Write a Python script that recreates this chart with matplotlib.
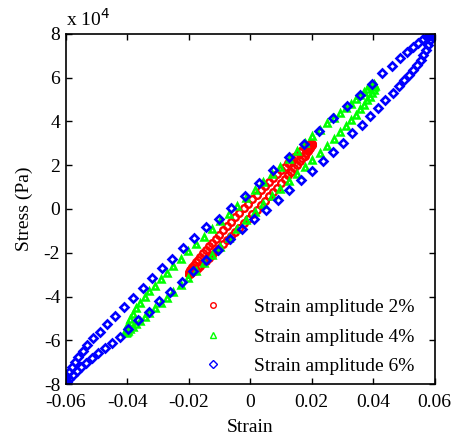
import numpy as np
import matplotlib.pyplot as plt
import matplotlib.ticker as tck

plt.rcParams['font.family'] = ['Liberation Serif', 'DejaVu Serif']
plt.rcParams['axes.unicode_minus'] = False

# stress values are in units of 1e4 Pa (axis shows "x 10^4")
# ---- strain amplitude 2% ----
red_up_strain = [-0.0200, -0.0200, -0.0198, -0.0196, -0.0192, -0.0188, -0.0183, -0.0177, -0.0170, -0.0162,
                 -0.0153, -0.0144, -0.0134, -0.0123, -0.0112, -0.0100, -0.0088, -0.0075, -0.0062, -0.0048,
                 -0.0035, -0.0021, -0.0007, 0.0007, 0.0021, 0.0035, 0.0048, 0.0062, 0.0075, 0.0088,
                 0.0100, 0.0112, 0.0123, 0.0134, 0.0144, 0.0153, 0.0162, 0.0170, 0.0177, 0.0183,
                 0.0188, 0.0192, 0.0196, 0.0198, 0.0200, 0.0200]
red_up_stress = [-2.95, -2.92, -2.87, -2.81, -2.74, -2.65, -2.55, -2.44, -2.32, -2.18,
                 -2.03, -1.88, -1.71, -1.54, -1.36, -1.17, -0.98, -0.78, -0.58, -0.37,
                 -0.17, 0.04, 0.25, 0.45, 0.66, 0.86, 1.05, 1.24, 1.43, 1.61,
                 1.78, 1.94, 2.09, 2.23, 2.37, 2.48, 2.59, 2.69, 2.77, 2.84,
                 2.89, 2.93, 2.96, 2.97, 2.97, 2.95]
red_lo_strain = [0.0200, 0.0198, 0.0196, 0.0192, 0.0188, 0.0183, 0.0177, 0.0170, 0.0162, 0.0153,
                 0.0144, 0.0134, 0.0123, 0.0112, 0.0100, 0.0088, 0.0075, 0.0062, 0.0048, 0.0035,
                 0.0021, 0.0007, -0.0007, -0.0021, -0.0035, -0.0048, -0.0062, -0.0075, -0.0088, -0.0100,
                 -0.0112, -0.0123, -0.0134, -0.0144, -0.0153, -0.0162, -0.0170, -0.0177, -0.0183, -0.0188,
                 -0.0192, -0.0196, -0.0198, -0.0200]
red_lo_stress = [2.92, 2.87, 2.81, 2.74, 2.65, 2.55, 2.44, 2.32, 2.18, 2.03,
                 1.88, 1.71, 1.54, 1.36, 1.17, 0.98, 0.78, 0.58, 0.37, 0.17,
                 -0.04, -0.25, -0.45, -0.66, -0.86, -1.05, -1.24, -1.43, -1.61, -1.78,
                 -1.94, -2.09, -2.23, -2.37, -2.48, -2.59, -2.69, -2.77, -2.84, -2.89,
                 -2.93, -2.96, -2.97, -2.97]

# ---- strain amplitude 4% ----
green_up_strain = [-0.04050, -0.04040, -0.04011, -0.03961, -0.03893, -0.03806, -0.03700, -0.03576, -0.03434, -0.03276,
                   -0.03102, -0.02913, -0.02710, -0.02494, -0.02265, -0.02025, -0.01776, -0.01517, -0.01251, -0.00980,
                   -0.00703, -0.00423, -0.00141, 0.00141, 0.00423, 0.00703, 0.00980, 0.01251, 0.01517, 0.01776,
                   0.02025, 0.02265, 0.02494, 0.02710, 0.02913, 0.03102, 0.03276, 0.03434, 0.03576, 0.03700,
                   0.03806, 0.03893, 0.03961, 0.04011, 0.04040, 0.04050]
green_up_stress = [-5.63, -5.55, -5.43, -5.25, -5.03, -4.79, -4.54, -4.29, -4.03, -3.77,
                   -3.51, -3.22, -2.92, -2.61, -2.28, -1.94, -1.61, -1.26, -0.91, -0.56,
                   -0.21, 0.14, 0.50, 0.87, 1.23, 1.59, 1.94, 2.30, 2.65, 3.00,
                   3.33, 3.63, 3.91, 4.17, 4.40, 4.61, 4.82, 5.02, 5.20, 5.36,
                   5.50, 5.61, 5.68, 5.70, 5.68, 5.63]
green_lo_strain = [0.04040, 0.04011, 0.03961, 0.03893, 0.03806, 0.03700, 0.03576, 0.03434, 0.03276, 0.03102,
                   0.02913, 0.02710, 0.02494, 0.02265, 0.02025, 0.01776, 0.01517, 0.01251, 0.00980, 0.00703,
                   0.00423, 0.00141, -0.00141, -0.00423, -0.00703, -0.00980, -0.01251, -0.01517, -0.01776, -0.02025,
                   -0.02265, -0.02494, -0.02710, -0.02913, -0.03102, -0.03276, -0.03434, -0.03576, -0.03700, -0.03806,
                   -0.03893, -0.03961, -0.04011, -0.04040]
green_lo_stress = [5.56, 5.46, 5.31, 5.14, 4.96, 4.76, 4.55, 4.31, 4.05, 3.78,
                   3.50, 3.20, 2.89, 2.57, 2.24, 1.92, 1.59, 1.26, 0.92, 0.58,
                   0.23, -0.13, -0.52, -0.92, -1.33, -1.73, -2.12, -2.49, -2.84, -3.17,
                   -3.49, -3.78, -4.05, -4.30, -4.53, -4.74, -4.94, -5.12, -5.27, -5.40,
                   -5.50, -5.58, -5.63, -5.65]

# ---- strain amplitude 6% ----
blue_up_strain = [-0.0600, -0.0599, -0.0597, -0.0589, -0.0580, -0.0570, -0.0559, -0.0545, -0.0530, -0.0510,
                  -0.0488, -0.0466, -0.0439, -0.0410, -0.0382, -0.0350, -0.0320, -0.0287, -0.0253, -0.0219,
                  -0.0182, -0.0143, -0.0103, -0.0062, -0.0018, 0.0029, 0.0075, 0.0127, 0.0176, 0.0225,
                  0.0270, 0.0314, 0.0357, 0.0395, 0.0430, 0.0461, 0.0487, 0.0511, 0.0530, 0.0547,
                  0.0563, 0.0575, 0.0585, 0.0593, 0.0598]
blue_up_stress = [-8.00, -7.85, -7.67, -7.44, -7.21, -6.98, -6.75, -6.49, -6.22, -5.91,
                  -5.61, -5.26, -4.88, -4.49, -4.08, -3.63, -3.17, -2.72, -2.28, -1.79,
                  -1.34, -0.84, -0.44, 0.03, 0.59, 1.18, 1.76, 2.38, 2.97, 3.57,
                  4.15, 4.70, 5.23, 5.71, 6.20, 6.54, 6.89, 7.18, 7.42, 7.60,
                  7.76, 7.87, 7.95, 7.99, 8.00]
blue_lo_strain = [0.0597, 0.0593, 0.0585, 0.0579, 0.0572, 0.0563, 0.0554, 0.0543, 0.0530, 0.0516,
                  0.0500, 0.0483, 0.0463, 0.0439, 0.0415, 0.0390, 0.0364, 0.0332, 0.0303, 0.0270,
                  0.0238, 0.0202, 0.0164, 0.0127, 0.0089, 0.0051, 0.0011, -0.0028, -0.0066, -0.0106,
                  -0.0144, -0.0185, -0.0223, -0.0261, -0.0295, -0.0329, -0.0364, -0.0396, -0.0423, -0.0450,
                  -0.0472, -0.0494, -0.0515, -0.0534, -0.0550, -0.0564, -0.0577, -0.0589, -0.0596]
blue_lo_stress = [7.94, 7.88, 7.73, 7.50, 7.27, 7.04, 6.81, 6.58, 6.35, 6.13,
                  5.90, 5.64, 5.32, 4.98, 4.60, 4.24, 3.86, 3.46, 3.03, 2.59,
                  2.19, 1.75, 1.31, 0.86, 0.41, -0.05, -0.47, -0.91, -1.39, -1.87,
                  -2.33, -2.82, -3.32, -3.78, -4.21, -4.69, -5.07, -5.49, -5.84, -6.14,
                  -6.37, -6.60, -6.83, -7.03, -7.21, -7.39, -7.59, -7.79, -7.92]

labels = ['Strain amplitude 2%', 'Strain amplitude 4%', 'Strain amplitude 6%']
xticks = [-0.06, -0.04, -0.02, 0, 0.02, 0.04, 0.06]
yticks = [-8, -6, -4, -2, 0, 2, 4, 6, 8]

fig, ax = plt.subplots(figsize=(4.53, 4.46), dpi=100)
fig.subplots_adjust(left=0.145, right=0.9596, bottom=0.139, top=0.9238)

ax.plot(red_up_strain + red_lo_strain, red_up_stress + red_lo_stress, 'o', color=(1, 0, 0),
        mfc='none', ms=4.8, mew=1.7, label=labels[0])
ax.plot(green_up_strain + green_lo_strain, green_up_stress + green_lo_stress, '^', color=(0, 1, 0),
        mfc='none', ms=4.8, mew=1.8, label=labels[1])
ax.plot(blue_up_strain + blue_lo_strain, blue_up_stress + blue_lo_stress, 'D', color=(0, 0, 1),
        mfc='none', ms=4.3, mew=1.9, label=labels[2])

ax.set_xlim(-0.06, 0.06)
ax.set_ylim(-8, 8)
ax.set_xticks(xticks)
ax.set_yticks(yticks)
ax.xaxis.set_major_formatter(tck.FuncFormatter(lambda v, p: '%g' % round(v, 4)))
ax.yaxis.set_major_formatter(tck.FuncFormatter(lambda v, p: '%g' % v))
ax.tick_params(direction='in', top=True, right=True, length=4, width=1, labelsize=14)
ax.tick_params(axis='x', pad=7)
ax.tick_params(axis='y', pad=4)
for s in ax.spines.values():
    s.set_linewidth(1.2)

ax.set_xlabel('Strain', fontsize=14, labelpad=6)
ax.set_ylabel('Stress (Pa)', fontsize=14, labelpad=8)
ax.text(0.0, 1.012, 'x 10$^{4}$', transform=ax.transAxes, fontsize=14, ha='left', va='bottom')

leg = ax.legend(loc='lower right', bbox_to_anchor=(0.945, 0.025), frameon=False, fontsize=14,
                numpoints=1, handlelength=2, handletextpad=1.1, labelspacing=0.62,
                borderpad=0, borderaxespad=0)
for h in leg.legend_handles:
    h.set_markersize(4)
    h.set_markeredgewidth(1)

fig.savefig('out.png', dpi=100)
